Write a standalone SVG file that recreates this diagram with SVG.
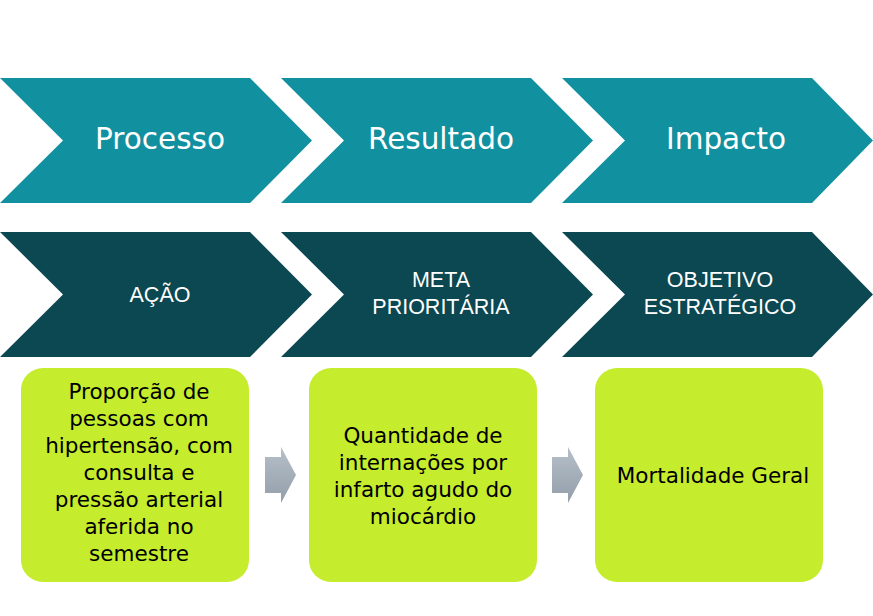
<svg xmlns="http://www.w3.org/2000/svg" width="873" height="616" viewBox="0 0 873 616">
<defs>
<style>
.top{fill:#11909F}
.bot{fill:#0B4851}
.box{fill:#C5EC2D}
.t1{font-family:"DejaVu Sans",sans-serif;font-size:29.5px;fill:#FFFFFF;text-anchor:middle}
.t2{font-family:"Liberation Sans",Arial,sans-serif;font-size:21.5px;fill:#FFFFFF;text-anchor:middle}
.t3{font-family:"DejaVu Sans",sans-serif;font-size:21.5px;fill:#000000;text-anchor:middle}
.arr{fill:url(#g)}
</style>
<linearGradient id="g" x1="0" y1="0" x2="0" y2="1">
<stop offset="0" stop-color="#B6BFC9"/>
<stop offset="1" stop-color="#939EAA"/>
</linearGradient>
</defs>
<rect width="873" height="616" fill="#FFFFFF"/>
<g id="processo">
<polygon class="top" points="0,78 250,78 312,140.5 250,203 0,203 63,140.5"/>
<text class="t1" x="160" y="149">Processo</text>
</g>
<g id="resultado">
<polygon class="top" points="281,78 531,78 593,140.5 531,203 281,203 344,140.5"/>
<text class="t1" x="441" y="149">Resultado</text>
</g>
<g id="impacto">
<polygon class="top" points="562,78 812,78 873,140.5 812,203 562,203 625,140.5"/>
<text class="t1" x="726" y="149">Impacto</text>
</g>
<g id="acao">
<polygon class="bot" points="0,232 250,232 312,294.5 250,357 0,357 63,294.5"/>
<text class="t2" x="160" y="302">AÇÃO</text>
</g>
<g id="meta">
<polygon class="bot" points="281,232 531,232 593,294.5 531,357 281,357 344,294.5"/>
<text class="t2" x="441" y="287">META</text>
<text class="t2" x="441" y="314">PRIORITÁRIA</text>
</g>
<g id="objetivo">
<polygon class="bot" points="562,232 812,232 873,294.5 812,357 562,357 625,294.5"/>
<text class="t2" x="720" y="287">OBJETIVO</text>
<text class="t2" x="720" y="314">ESTRATÉGICO</text>
</g>
<g id="box1">
<rect class="box" x="21" y="368" width="228" height="214" rx="22"/>
<text class="t3" x="139" y="399">Proporção de</text>
<text class="t3" x="139" y="426">pessoas com</text>
<text class="t3" x="139" y="453">hipertensão, com</text>
<text class="t3" x="139" y="480">consulta e</text>
<text class="t3" x="139" y="507">pressão arterial</text>
<text class="t3" x="139" y="534">aferida no</text>
<text class="t3" x="139" y="561">semestre</text>
</g>
<g id="box2">
<rect class="box" x="309" y="368" width="228" height="214" rx="22"/>
<text class="t3" x="423" y="443">Quantidade de</text>
<text class="t3" x="423" y="470">internações por</text>
<text class="t3" x="423" y="497">infarto agudo do</text>
<text class="t3" x="423" y="524">miocárdio</text>
</g>
<g id="box3">
<rect class="box" x="595" y="368" width="228" height="214" rx="22"/>
<text class="t3" x="713" y="483">Mortalidade Geral</text>
</g>
<g id="connectors">
<polygon class="arr" points="265,457 281,457 281,447 296,475 281,503 281,493 265,493"/>
<polygon class="arr" points="552,457 568,457 568,447 583,475 568,503 568,493 552,493"/>
</g>
</svg>
